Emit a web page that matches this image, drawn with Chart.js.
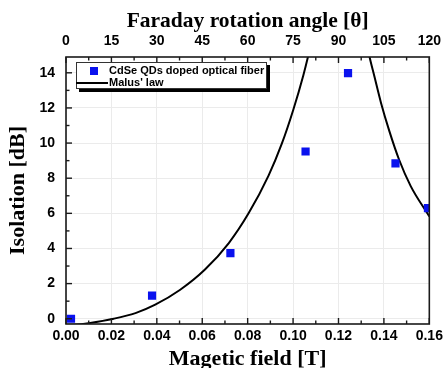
<!DOCTYPE html>
<html>
<head>
<meta charset="utf-8">
<script src="https://cdn.jsdelivr.net/npm/chart.js@4/dist/chart.umd.min.js"></script>
<style>html,body{margin:0;padding:0;background:#fff;}canvas{display:block;}</style>
</head>
<body>
<canvas id="c" width="448" height="368"></canvas>
<script>
// ---- data ----
const fieldT = [0.0022, 0.0379, 0.0724, 0.1055, 0.1242, 0.1451, 0.1594];
const isolationDb = [0.0, 1.31, 3.74, 9.52, 13.98, 8.84, 6.30];

// Malus' law curve (null = gap at asymptote)
const curveT = [0, 0.005, 0.01, 0.021, 0.0306, 0.0393, 0.0503, 0.0612, 0.0717, 0.0804, 0.0892, 0.095, 0.1001, 0.1045, 0.107, 0.1095,
                0.12,
                0.1315, 0.1336, 0.1358, 0.1387, 0.1424, 0.1467, 0.1518, 0.16];
const curveDb = [-0.34, -0.33, -0.25, 0.0, 0.32, 0.8, 1.65, 2.8, 4.31, 6.0, 8.15, 9.95, 11.9, 13.85, 15.15, 16.6,
                 null,
                 16.3, 14.95, 13.8, 12.3, 10.68, 9.05, 7.55, 5.82];

const seriesNames = ['CdSe QDs doped optical fiber', "Malus' law"];

// tick values / labels
const xTicks = [0, 0.02, 0.04, 0.06, 0.08, 0.10, 0.12, 0.14, 0.16];
const xMinorTicks = [0.01, 0.03, 0.05, 0.07, 0.09, 0.11, 0.13, 0.15];
const yTicks = [0, 2, 4, 6, 8, 10, 12, 14];
const yMinorTicks = [1, 3, 5, 7, 9, 11, 13];
const angleTicks = [0, 15, 30, 45, 60, 75, 90, 105, 120];
const angleMinorTicks = [7.5, 22.5, 37.5, 52.5, 67.5, 82.5, 97.5, 112.5];

const scatterPts = fieldT.map((x, i) => ({x, y: isolationDb[i]}));
const curvePts = curveT.map((x, i) => ({x, y: curveDb[i]}));

const SERIF = "'Liberation Serif', 'Times New Roman', serif";
const SANS = "'Liberation Sans', Arial, sans-serif";

const bgPlugin = {
  id: 'bg',
  beforeDraw(chart) {
    const c = chart.ctx; c.save(); c.fillStyle = '#fff';
    c.fillRect(0, 0, chart.width, chart.height); c.restore();
  }
};

const framePlugin = {
  id: 'frame',
  afterDatasetsDraw(chart) {
    const {ctx, chartArea: a, scales} = chart;
    ctx.save();
    ctx.strokeStyle = '#1a1a1a';
    ctx.lineWidth = 1.4;
    const line = (x1, y1, x2, y2) => { ctx.beginPath(); ctx.moveTo(x1, y1); ctx.lineTo(x2, y2); ctx.stroke(); };
    xTicks.forEach(v => { const p = scales.x.getPixelForValue(v); line(p, a.bottom, p, a.bottom - 6); });
    xMinorTicks.forEach(v => { const p = scales.x.getPixelForValue(v); line(p, a.bottom, p, a.bottom - 3.5); });
    angleTicks.forEach(v => { const p = scales.x2.getPixelForValue(v); line(p, a.top, p, a.top + 6); });
    angleMinorTicks.forEach(v => { const p = scales.x2.getPixelForValue(v); line(p, a.top, p, a.top + 3.5); });
    yTicks.forEach(v => { const p = scales.y.getPixelForValue(v); line(a.left, p, a.left + 6, p); });
    yMinorTicks.forEach(v => { const p = scales.y.getPixelForValue(v); line(a.left, p, a.left + 3.5, p); });
    ctx.lineWidth = 1.6;
    ctx.strokeRect(a.left, a.top, a.right - a.left, a.bottom - a.top);
    ctx.restore();
  }
};

const legendPlugin = {
  id: 'boxLegend',
  afterDraw(chart) {
    const {ctx, chartArea: a} = chart;
    const ds = chart.data.datasets;
    const x = a.left + 10, y = a.top + 5, w = 191, h = 27;
    ctx.save();
    ctx.fillStyle = '#000';
    ctx.fillRect(x + 3, y + 3, w, h);
    ctx.fillStyle = '#fff';
    ctx.fillRect(x, y, w, h);
    ctx.strokeStyle = '#333'; ctx.lineWidth = 1;
    ctx.strokeRect(x + 0.5, y + 0.5, w - 1, h - 1);
    ctx.font = 'bold 11px ' + SANS;
    ctx.textBaseline = 'middle';
    ctx.fillStyle = ds[0].backgroundColor;
    ctx.fillRect(x + 14, y + 5, 8, 8);
    ctx.fillStyle = '#000';
    ctx.fillText(ds[0].label, x + 33, y + 9);
    ctx.strokeStyle = ds[1].borderColor; ctx.lineWidth = 2;
    ctx.beginPath(); ctx.moveTo(x, y + 21); ctx.lineTo(x + 32, y + 21); ctx.stroke();
    ctx.fillText(ds[1].label, x + 33, y + 20.5);
    ctx.restore();
  }
};

const tickFont = {family: SANS, size: 14, weight: 'bold'};

new Chart(document.getElementById('c'), {
  type: 'scatter',
  data: {
    datasets: [
      {
        label: seriesNames[0],
        data: scatterPts,
        backgroundColor: '#0a12ee',
        borderWidth: 0,
        pointStyle: 'rect',
        pointRadius: 5.8,
        pointHoverRadius: 5.8
      },
      {
        label: seriesNames[1],
        data: curvePts,
        showLine: true,
        spanGaps: false,
        borderColor: '#000',
        backgroundColor: '#000',
        borderWidth: 2,
        pointRadius: 0,
        cubicInterpolationMode: 'monotone'
      }
    ]
  },
  options: {
    responsive: false,
    animation: false,
    layout: {padding: {left: 0, right: 16, top: 0, bottom: 0}},
    plugins: {legend: {display: false}, tooltip: {enabled: false}},
    scales: {
      x: {
        type: 'linear', position: 'bottom', min: 0, max: 0.16,
        afterBuildTicks: s => { s.ticks = xTicks.map(v => ({value: v})); },
        afterFit: s => { s.height = 44; },
        ticks: {font: tickFont, color: '#000', padding: 4, maxRotation: 0,
                callback: v => Number(v).toFixed(2)},
        grid: {color: '#ebebeb', lineWidth: 1, drawTicks: false},
        border: {display: false},
        title: {display: true, text: 'Magetic field [T]', color: '#000',
                font: {family: SERIF, size: 22, weight: 'bold', lineHeight: 0.8}, padding: 0}
      },
      x2: {
        type: 'linear', position: 'top', min: 0, max: 120,
        afterBuildTicks: s => { s.ticks = angleTicks.map(v => ({value: v})); },
        afterFit: s => { s.height = 57; },
        ticks: {font: tickFont, color: '#000', padding: 7, maxRotation: 0},
        grid: {display: false, drawTicks: false},
        border: {display: false},
        title: {display: true, text: 'Faraday rotation angle [θ]', color: '#000',
                font: {family: SERIF, size: 21.5, weight: 'bold', lineHeight: 1}, padding: {top: 11, bottom: 0}}
      },
      y: {
        type: 'linear', position: 'left', min: -0.3, max: 14.9,
        afterBuildTicks: s => { s.ticks = yTicks.map(v => ({value: v})); },
        afterFit: s => { s.width = 66; },
        ticks: {font: tickFont, color: '#000', padding: 11},
        grid: {color: '#ebebeb', lineWidth: 1, drawTicks: false},
        border: {display: false},
        title: {display: true, text: 'Isolation [dB]', color: '#000',
                font: {family: SERIF, size: 22, weight: 'bold', lineHeight: 1}, padding: {top: 7, bottom: 0}}
      }
    }
  },
  plugins: [bgPlugin, framePlugin, legendPlugin]
});
</script>
</body>
</html>
